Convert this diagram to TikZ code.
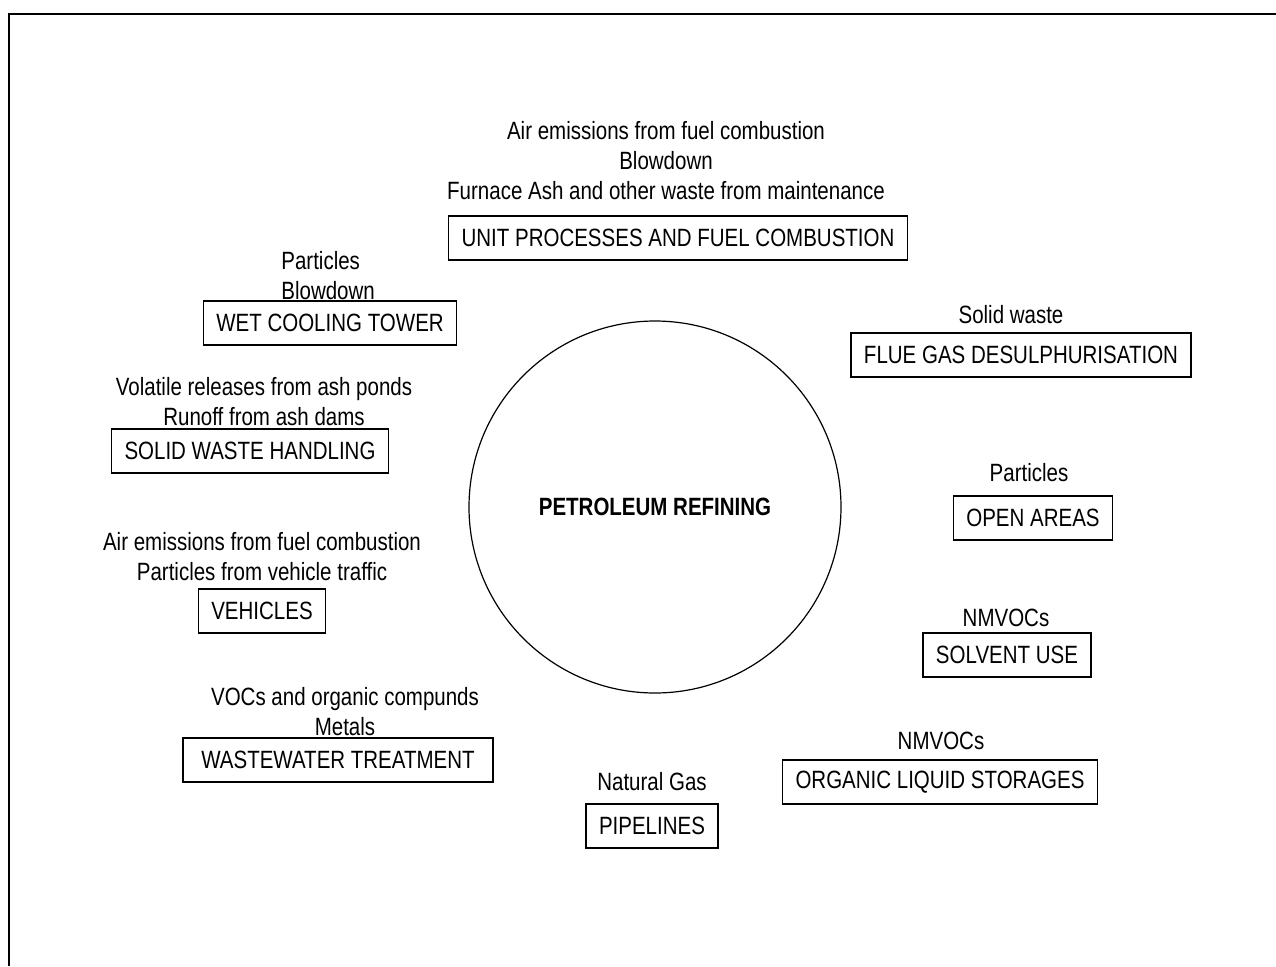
\documentclass[tikz,border=0pt]{standalone}
\usepackage{fontspec}
\setmainfont{Liberation Sans}[FakeStretch=0.82]
\usetikzlibrary{positioning}

\begin{document}
\begin{tikzpicture}[
    x=0.5pt, y=-0.5pt,
    txt/.style={font=\fontsize{12.5}{15}\selectfont, inner sep=0pt},
    src/.style={draw, line width=0.6pt, minimum height=22pt,
                inner xsep=6.5pt, inner ysep=0pt,
                font=\fontsize{12.5}{15}\selectfont},
    lbl/.style={txt, align=center}
  ]
  \useasboundingbox (0,0) rectangle (1276,966);
  \draw[line width=1pt] (9,966) -- (9,14) -- (1276,14);

  % central process
  \node[circle, draw, line width=0.6pt, minimum size=186pt, inner sep=0pt,
        font=\fontsize{12.5}{15}\selectfont\bfseries] (ref) at (655,507)
    {PETROLEUM REFINING};

  % sources
  \foreach \n/\x/\y/\t in {unit/678/238/UNIT PROCESSES AND FUEL COMBUSTION,
      wet/330/323/WET COOLING TOWER, flue/1021/355/FLUE GAS DESULPHURISATION,
      solid/250/451/SOLID WASTE HANDLING, open/1033/518/OPEN AREAS,
      veh/262/611/VEHICLES, solv/1007/655/SOLVENT USE,
      org/940/782/ORGANIC LIQUID STORAGES, pipe/652/826/PIPELINES} {
    \node[src] (\n) at (\x,\y) {\t};
  }
  \node[src, minimum width=155pt] (waste) at (338,760) {WASTEWATER TREATMENT};

  % releases
  \node[lbl] (unit-l) at (666,161) {Air emissions from fuel combustion\\
    Blowdown\\Furnace Ash and other waste from maintenance};
  \node[txt, align=left, anchor=west] (wet-l) at (281,276) {Particles\\Blowdown};
  \node[lbl] (flue-l) at (1011,315) {Solid waste};
  \node[lbl] (solid-l) at (264,402) {Volatile releases from ash ponds\\
    Runoff from ash dams};
  \node[lbl] (open-l) at (1029,473) {Particles};
  \node[lbl] (veh-l) at (262,557) {Air emissions from fuel combustion\\
    Particles from vehicle traffic};
  \node[lbl] (solv-l) at (1006,618) {NMVOCs};
  \node[lbl] (waste-l) at (345,712) {VOCs and organic compunds\\Metals};
  \node[lbl] (org-l) at (941,741) {NMVOCs};
  \node[lbl] (pipe-l) at (652,782) {Natural Gas};
\end{tikzpicture}
\end{document}
